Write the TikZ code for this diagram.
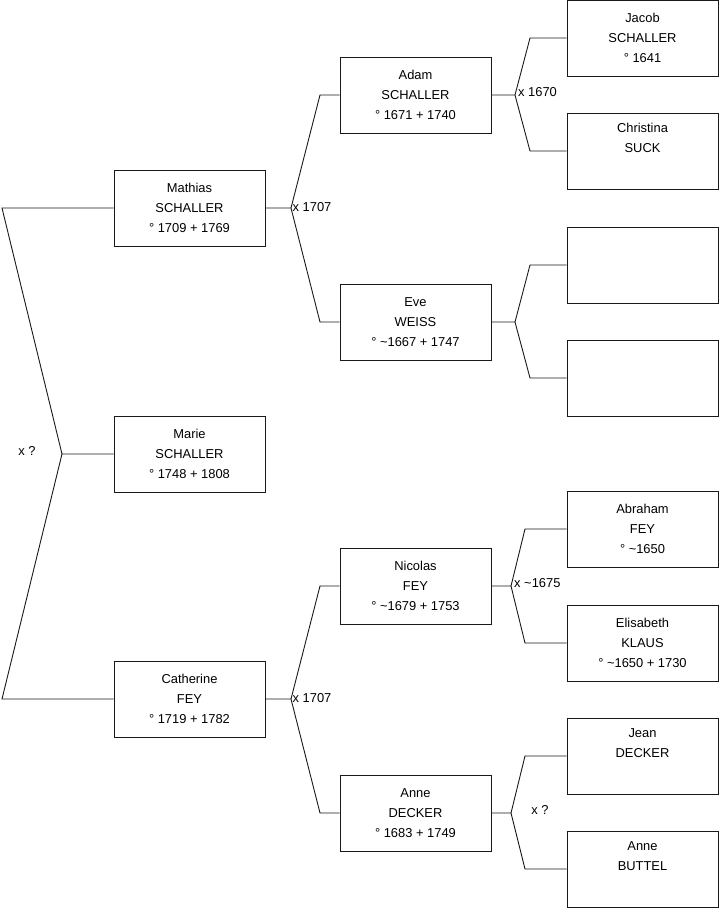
\documentclass[tikz,border=0pt]{standalone}
\usepackage{fontspec}
\setmainfont{Liberation Sans}
\begin{document}
\begin{tikzpicture}[x=1pt,y=-1pt,
  person/.style={draw=black!90, line width=0.9pt, minimum width=151pt, minimum height=76pt,
    inner sep=0pt, align=center, font=\fontsize{12.9}{20}\selectfont},
  conn/.style={draw=black!90, line width=0.9pt},
  lbl/.style={inner sep=1pt, font=\fontsize{12.9}{15}\selectfont}]
\useasboundingbox (0,0) rectangle (719,908);
% column 1
\node[person] (mathias) at (189.5,208) {Mathias\\SCHALLER\\° 1709 + 1769};
\node[person] (marie) at (189.5,454) {Marie\\SCHALLER\\° 1748 + 1808};
\node[person] (catherine) at (189.5,699) {Catherine\\FEY\\° 1719 + 1782};
% column 2
\node[person] (adam) at (415.5,95) {Adam\\SCHALLER\\° 1671 + 1740};
\node[person] (eve) at (415.5,322) {Eve\\WEISS\\° \textasciitilde1667 + 1747};
\node[person] (nicolas) at (415.5,586) {Nicolas\\FEY\\° \textasciitilde1679 + 1753};
\node[person] (anned) at (415.5,813) {Anne\\DECKER\\° 1683 + 1749};
% column 3
\node[person] (jacob) at (642.5,38) {Jacob\\SCHALLER\\° 1641};
\node[person] (christina) at (642.5,151) {Christina\\SUCK\\\strut};
\node[person] (e1) at (642.5,265) {};
\node[person] (e2) at (642.5,378) {};
\node[person] (abraham) at (642.5,529) {Abraham\\FEY\\° \textasciitilde1650};
\node[person] (elisabeth) at (642.5,643) {Elisabeth\\KLAUS\\° \textasciitilde1650 + 1730};
\node[person] (jean) at (642.5,756) {Jean\\DECKER\\\strut};
\node[person] (anneb) at (642.5,869) {Anne\\BUTTEL\\\strut};
% junction coordinates
\coordinate (j0) at (62,454);
\coordinate (j0t) at (2,208);
\coordinate (j0b) at (2,699);
\coordinate (j1) at (291,208);
\coordinate (j1t) at (320,95);
\coordinate (j1b) at (320,322);
\coordinate (j2) at (291,699);
\coordinate (j2t) at (320,586);
\coordinate (j2b) at (320,813);
\coordinate (j3) at (515,95);
\coordinate (j3t) at (530,38);
\coordinate (j3b) at (530,151);
\coordinate (j4) at (515,322);
\coordinate (j4t) at (530,265);
\coordinate (j4b) at (530,378);
\coordinate (j5) at (511,586);
\coordinate (j5t) at (525,529);
\coordinate (j5b) at (525,643);
\coordinate (j6) at (511,813);
\coordinate (j6t) at (525,756);
\coordinate (j6b) at (525,869);
% connectors
\draw[conn] (marie.west) -- (j0) -- (j0t) -- (mathias.west);
\draw[conn] (j0) -- (j0b) -- (catherine.west);
\draw[conn] (mathias.east) -- (j1) -- (j1t) -- (adam.west);
\draw[conn] (j1) -- (j1b) -- (eve.west);
\draw[conn] (catherine.east) -- (j2) -- (j2t) -- (nicolas.west);
\draw[conn] (j2) -- (j2b) -- (anned.west);
\draw[conn] (adam.east) -- (j3) -- (j3t) -- (jacob.west);
\draw[conn] (j3) -- (j3b) -- (christina.west);
\draw[conn] (eve.east) -- (j4) -- (j4t) -- (e1.west);
\draw[conn] (j4) -- (j4b) -- (e2.west);
\draw[conn] (nicolas.east) -- (j5) -- (j5t) -- (abraham.west);
\draw[conn] (j5) -- (j5b) -- (elisabeth.west);
\draw[conn] (anned.east) -- (j6) -- (j6t) -- (jean.west);
\draw[conn] (j6) -- (j6b) -- (anneb.west);
% labels
\node[lbl] (l0) at (27,451) {x ?};
\node[lbl, anchor=west] (l1) at (291.5,207) {x 1707};
\node[lbl, anchor=west] (l2) at (291.5,698) {x 1707};
\node[lbl, anchor=west] (l3) at (517,92) {x 1670};
\node[lbl, anchor=west] (l5) at (513,583) {x \textasciitilde1675};
\node[lbl] (l6) at (540,810) {x ?};
\end{tikzpicture}
\end{document}
